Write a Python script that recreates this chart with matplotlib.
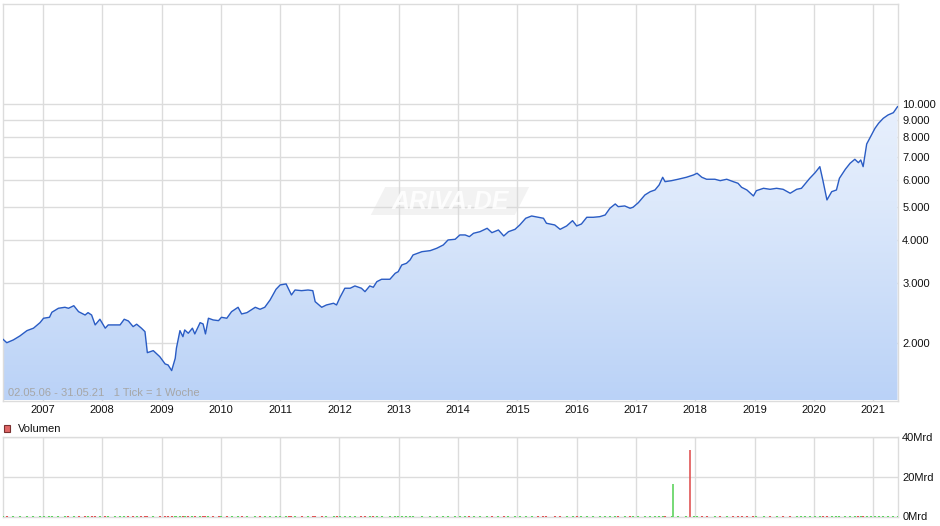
import numpy as np
import matplotlib
matplotlib.use("Agg")
import matplotlib.pyplot as plt
from matplotlib.colors import LinearSegmentedColormap
from matplotlib.patches import Polygon, Rectangle
from matplotlib.ticker import NullLocator, NullFormatter

plt.rcParams['font.family'] = ['Liberation Sans', 'DejaVu Sans']

# ---------------- data ----------------
years = [2006.33, 2006.39, 2006.50, 2006.61, 2006.73, 2006.84, 2006.95, 2007.01, 2007.11, 2007.15,
         2007.26, 2007.37, 2007.43, 2007.52, 2007.60, 2007.71, 2007.76, 2007.82, 2007.88, 2007.96,
         2008.05, 2008.10, 2008.21, 2008.30, 2008.37, 2008.44, 2008.52, 2008.58, 2008.66, 2008.72,
         2008.76, 2008.86, 2008.97, 2009.06, 2009.11, 2009.17, 2009.23, 2009.25, 2009.31, 2009.36,
         2009.39, 2009.45, 2009.52, 2009.56, 2009.65, 2009.70, 2009.74, 2009.79, 2009.87, 2009.96,
         2010.01, 2010.10, 2010.18, 2010.29, 2010.35, 2010.44, 2010.58, 2010.66, 2010.74, 2010.83,
         2010.93, 2011.00, 2011.10, 2011.15, 2011.19, 2011.25, 2011.36, 2011.47, 2011.55, 2011.59,
         2011.70, 2011.78, 2011.90, 2011.95, 2012.01, 2012.09, 2012.18, 2012.26, 2012.37, 2012.43,
         2012.51, 2012.57, 2012.63, 2012.71, 2012.85, 2012.94, 2012.99, 2013.05, 2013.13, 2013.19,
         2013.24, 2013.39, 2013.53, 2013.64, 2013.75, 2013.83, 2013.95, 2014.03, 2014.12, 2014.19,
         2014.26, 2014.37, 2014.49, 2014.57, 2014.68, 2014.77, 2014.85, 2014.96, 2015.04, 2015.14,
         2015.24, 2015.35, 2015.44, 2015.49, 2015.63, 2015.72, 2015.83, 2015.93, 2016.00, 2016.08,
         2016.17, 2016.28, 2016.39, 2016.48, 2016.56, 2016.65, 2016.70, 2016.81, 2016.90, 2016.95,
         2017.04, 2017.15, 2017.24, 2017.32, 2017.39, 2017.45, 2017.49, 2017.60, 2017.71, 2017.85,
         2017.97, 2018.03, 2018.11, 2018.19, 2018.33, 2018.42, 2018.53, 2018.64, 2018.72, 2018.78,
         2018.87, 2018.98, 2019.03, 2019.15, 2019.26, 2019.37, 2019.48, 2019.60, 2019.71, 2019.79,
         2019.85, 2019.93, 2020.02, 2020.10, 2020.15, 2020.22, 2020.30, 2020.38, 2020.43, 2020.53,
         2020.61, 2020.69, 2020.75, 2020.79, 2020.83, 2020.89, 2020.97, 2021.03, 2021.09, 2021.17,
         2021.25, 2021.34, 2021.41]

prices = [2048, 2004, 2042, 2097, 2174, 2210, 2294, 2363, 2378, 2460,
          2527, 2544, 2527, 2571, 2470, 2415, 2454, 2415, 2259, 2347,
          2210, 2259, 2259, 2259, 2347, 2320, 2233, 2270, 2210, 2159,
          1874, 1900, 1824, 1737, 1725, 1661, 1804, 1931, 2174, 2087,
          2184, 2136, 2210, 2126, 2294, 2274, 2126, 2363, 2336, 2325,
          2378, 2363, 2470, 2544, 2432, 2454, 2544, 2510, 2544, 2673,
          2872, 2957, 2977, 2858, 2764, 2858, 2845, 2858, 2845, 2642,
          2544, 2584, 2614, 2584, 2722, 2892, 2892, 2937, 2892, 2826,
          2937, 2911, 3023, 3072, 3072, 3199, 3233, 3382, 3421, 3499,
          3618, 3699, 3725, 3785, 3870, 4002, 4021, 4140, 4140, 4093,
          4187, 4233, 4330, 4204, 4281, 4112, 4233, 4300, 4428, 4632,
          4704, 4663, 4632, 4479, 4428, 4300, 4398, 4558, 4398, 4458,
          4663, 4663, 4683, 4736, 4955, 5101, 5009, 5033, 4955, 4989,
          5146, 5419, 5541, 5604, 5797, 6105, 5927, 5967, 6024, 6105,
          6201, 6272, 6105, 6024, 6024, 5967, 6024, 5927, 5863, 5707,
          5604, 5383, 5578, 5668, 5630, 5668, 5630, 5482, 5630, 5668,
          5836, 6063, 6296, 6557, 5995, 5241, 5541, 5604, 6063, 6443,
          6708, 6891, 6736, 6859, 6557, 7638, 8116, 8489, 8780, 9082,
          9286, 9432, 9820]

# weekly volume in Mrd (barely visible at the bottom of the volume panel)
weekly_vol_mrd = [
    0.5, 0.5, 0.5, 0.5, 0.5, 0.5, 0.5, 0.5, 0.5, 0.5, 0.5, 0.5, 0.5, 0.5, 0.5, 0.5, 0.5, 0.5, 0.5, 0.5,
    0.5, 0.5, 0.5, 0.5, 0.5, 0.5, 0.5, 0.5, 0.5, 0.5, 0.5, 0.5, 0.5, 0.5, 0.5, 0.5, 0.5, 0.5, 0.5, 0.5,
    0.5, 0.5, 0.5, 0.5, 0.5, 0.5, 0.5, 0.5, 0.5, 0.5, 0.5, 0.5, 0.5, 0.5, 0.5, 0.5, 0.5, 0.5, 0.5, 0.5,
    0.5, 0.5, 0.5, 0.5, 0.5, 0.5, 0.5, 0.5, 0.5, 0.5, 0.5, 0.5, 0.5, 0.5, 0.5, 0.5, 0.5, 0.5, 0.5, 0.5,
    0.5, 0.5, 0.5, 0.5, 0.5, 0.5, 0.5, 0.5, 0.5, 0.5, 0.5, 0.5, 0.5, 0.5, 0.5, 0.5, 0.5, 0.5, 0.5, 0.5,
    0.5, 0.5, 0.5, 0.5, 0.5, 0.5, 0.5, 0.5, 0.5, 0.5, 0.5, 0.5, 0.5, 0.5, 0.5, 0.5, 0.5, 0.5, 0.5, 0.5,
    0.5, 0.5, 0.5, 0.5, 0.5, 0.5, 0.5, 0.5, 0.5, 0.5, 0.5, 0.5, 0.5, 0.5, 0.5, 0.5, 0.5, 0.5, 0.5, 0.5,
    0.5, 0.5, 0.5, 0.5, 0.5, 0.5, 0.5, 0.5, 0.5, 0.5, 0.5, 0.5, 0.5, 0.5, 0.5, 0.5, 0.5, 0.5, 0.5, 0.5,
    0.5, 0.5, 0.5, 0.5, 0.5, 0.5, 0.5, 0.5, 0.5, 0.5, 0.5, 0.5, 0.5, 0.5, 0.5, 0.5, 0.5, 0.5, 0.5, 0.5,
    0.5, 0.5, 0.5]

spike_years = [2017.63, 2017.91]
spike_vol_mrd = [16.2, 33.4]
spike_up = [True, False]

year_ticks = list(range(2007, 2022))
year_labels = [str(y) for y in year_ticks]
price_ticks = [2000, 3000, 4000, 5000, 6000, 7000, 8000, 9000, 10000]
price_labels = ["2.000", "3.000", "4.000", "5.000", "6.000", "7.000", "8.000", "9.000", "10.000"]
vol_ticks = [0, 20, 40]
vol_labels = ["0Mrd", "20Mrd", "40Mrd"]

# ---------------- styling ----------------
W, H = 940, 526
GRID = "#dcdcdc"
LINE = "#2a5cc4"
UP = "#5fd35f"
DOWN = "#e05555"
xlim = (2006.326, 2021.418)
ylim = (1358, 19670)

fig = plt.figure(figsize=(W / 100, H / 100), dpi=100)

def fx(px):
    return px / W

def fy(py):
    return 1 - py / H

# main axes
ax = fig.add_axes([fx(3), fy(400.5), fx(898) - fx(3), fy(3.5) - fy(400.5)])
ax.set_yscale("log")
ax.set_xlim(*xlim)
ax.set_ylim(*ylim)

# gradient fill under the line
poly = ax.fill_between(years, prices, ylim[0] * 0.5, facecolor="none", edgecolor="none")
cmap = LinearSegmentedColormap.from_list("g", ["#bad2f7", "#dde9fb", "#f3f7fe"])
grad = np.linspace(0, 1, 256).reshape(-1, 1)
img = ax.imshow(grad, cmap=cmap, extent=[0, 1, 0, 1], transform=ax.transAxes,
                aspect="auto", origin="lower", zorder=1)
img.set_clip_path(poly.get_paths()[0], transform=ax.transData)
ax.plot(years, prices, color=LINE, lw=1.0, zorder=4)

ax.set_xticks(year_ticks)
ax.set_xticklabels(year_labels)
ax.yaxis.tick_right()
ax.set_yticks(price_ticks)
ax.set_yticklabels(price_labels)
ax.yaxis.set_minor_locator(NullLocator())
ax.yaxis.set_minor_formatter(NullFormatter())
ax.tick_params(axis="both", length=0, labelsize=8, colors="#111111")
ax.tick_params(axis="x", pad=3)
ax.tick_params(axis="y", pad=3)
ax.grid(True, color=GRID, lw=1, zorder=0)
ax.set_axisbelow(True)
for s in ax.spines.values():
    s.set_color(GRID)
    s.set_linewidth(1)

ax.text((8 - 3) / 895, 0.006, "02.05.06 - 31.05.21   1 Tick = 1 Woche",
        transform=ax.transAxes, fontsize=8, color="#a6a6a6", va="bottom", ha="left", zorder=5)

# watermark
x0, x1 = (378 - 3) / 895, (522 - 3) / 895
y0, y1 = (400.5 - 215) / 397, (400.5 - 187) / 397
sk = 0.008
wm = Polygon([(x0 + sk, y1), (x1 + sk, y1), (x1 - sk, y0), (x0 - sk, y0)], closed=True,
             transform=ax.transAxes, facecolor="#d8d8d8", edgecolor="none", alpha=0.32, zorder=2,
             joinstyle="round")
ax.add_patch(wm)
ax.text((x0 + x1) / 2, (y0 + y1) / 2 - 0.003, "ARIVA.DE", transform=ax.transAxes,
        fontsize=18, fontweight="bold", style="italic", color="white", alpha=0.85,
        ha="center", va="center", zorder=3)

# volume axes
ax2 = fig.add_axes([fx(3), fy(516.5), fx(898) - fx(3), fy(437) - fy(516.5)])
ax2.set_xlim(*xlim)
ax2.set_ylim(0, 40)
cols = [UP] + [UP if prices[i] >= prices[i - 1] else DOWN for i in range(1, len(prices))]
ax2.vlines(years, 0, weekly_vol_mrd, colors=cols, lw=1.5, zorder=3)
ax2.vlines(spike_years, 0, spike_vol_mrd, colors=[UP if u else DOWN for u in spike_up],
           lw=1.2, zorder=3)
ax2.set_xticks(year_ticks)
ax2.set_xticklabels([])
ax2.yaxis.tick_right()
ax2.set_yticks(vol_ticks)
ax2.set_yticklabels(vol_labels)
ax2.tick_params(axis="both", length=0, labelsize=8, colors="#111111")
ax2.tick_params(axis="y", pad=3)
ax2.grid(True, color=GRID, lw=1, zorder=0)
ax2.set_axisbelow(True)
for s in ax2.spines.values():
    s.set_color(GRID)
    s.set_linewidth(1)

# legend "Volumen"
fig.patches.append(Rectangle((fx(4), fy(432)), fx(6), fy(425) - fy(432), transform=fig.transFigure,
                             facecolor="#e06666", edgecolor="#7a3030", lw=0.8))
fig.text(fx(18), fy(428.5), "Volumen", fontsize=8, color="#111111", va="center", ha="left")

fig.savefig("out.png", dpi=100)
